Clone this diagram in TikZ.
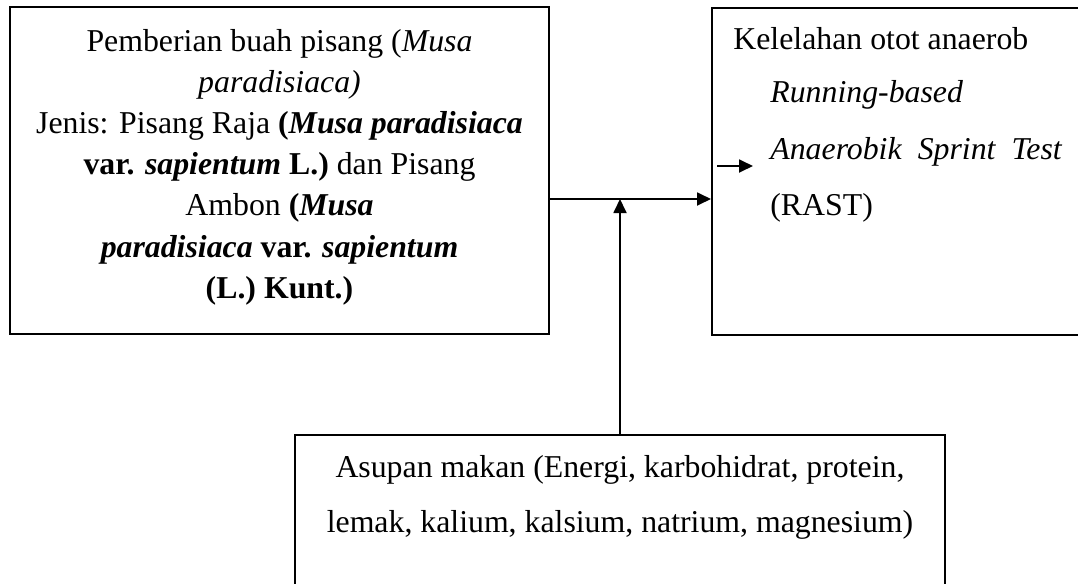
\documentclass[tikz,border=0pt]{standalone}
\usepackage{fontspec}
\setmainfont{Liberation Serif}
\usetikzlibrary{arrows.meta}
\tikzset{
  box/.style={draw=black, line width=1pt, rectangle, inner sep=0pt},
  txt/.style={inner sep=0pt, font=\fontsize{15.9}{18}\selectfont},
  arr/.style={line width=0.9pt, -{Triangle[length=7pt,width=6.5pt]}}
}
\begin{document}
\begin{tikzpicture}[x=0.5pt,y=-0.5pt]
\clip (0,0) rectangle (1078,584);
\useasboundingbox (0,0) rectangle (1078,584);
% boxes
\node[box, minimum width=269.5pt, minimum height=163.5pt] (L) at (279.5,170.5) {};
\node[box, minimum width=189pt, minimum height=163.5pt] (R) at (901,171.5) {};
\node[box, minimum width=325pt, minimum height=87.5pt] (B) at (620,522.5) {};
% left text
\node[txt, anchor=base] (l1) at (279.5,51.5) {Pemberian buah pisang (\textit{Musa}};
\node[txt, anchor=base] (l2) at (279.5,92.6) {\textit{paradisiaca)}};
\node[txt, anchor=base] (l3) at (279.5,133.7) {Jenis: Pisang Raja \textbf{(\textit{Musa paradisiaca}}};
\node[txt, anchor=base] (l4) at (279.5,174.8) {\textbf{var. \textit{sapientum} L.)} dan Pisang};
\node[txt, anchor=base] (l5) at (279.5,215.9) {Ambon \textbf{(\textit{Musa}}};
\node[txt, anchor=base] (l6) at (279.5,257) {\textbf{\textit{paradisiaca} var. \textit{sapientum}}};
\node[txt, anchor=base] (l7) at (279.5,298.1) {\textbf{(L.) Kunt.)}};
% right text
\node[txt, anchor=base west] (r1) at (733,49) {Kelelahan otot anaerob};
\node[txt, anchor=base west] (r2) at (770,102) {\textit{Running-based}};
\node[txt, anchor=base west] (r3) at (770,159) {\makebox[146pt][s]{\textit{Anaerobik Sprint Test}}};
\node[txt, anchor=base west] (r4) at (770,215) {(RAST)};
% bottom text
\node[txt, anchor=base] (b1) at (620,477) {Asupan makan (Energi, karbohidrat, protein,};
\node[txt, anchor=base] (b2) at (620,532) {lemak, kalium, kalsium, natrium, magnesium)};
% connectors
\coordinate (j) at (621,199);
\coordinate (s1) at (717,166);
\coordinate (s2) at (753,166);
\draw[arr] (L.east |- j) -- (R.west |- j);
\draw[arr] (B.north) -- (B.north |- j);
\draw[arr] (s1) -- (s2);
\end{tikzpicture}
\end{document}
